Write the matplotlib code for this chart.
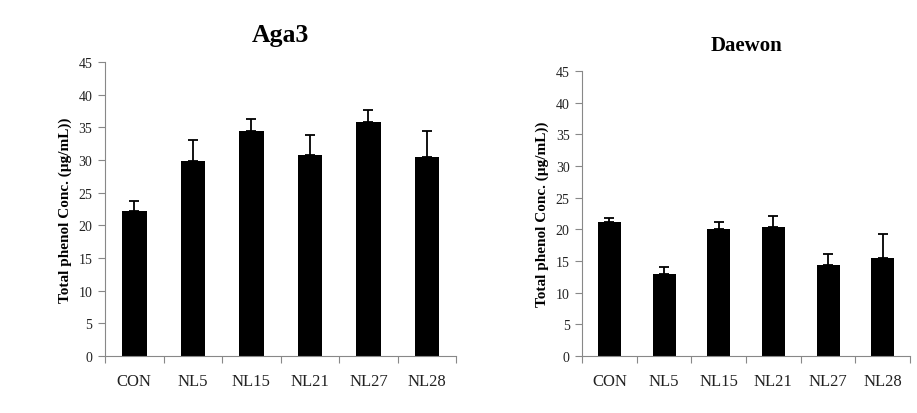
import matplotlib.pyplot as plt
import numpy as np

plt.rcParams['font.family'] = ['Liberation Serif', 'DejaVu Serif']

categories = ['CON', 'NL5', 'NL15', 'NL21', 'NL27', 'NL28']
aga3_mean = [22.2, 29.8, 34.4, 30.7, 35.8, 30.4]
aga3_err = [1.6, 3.3, 1.9, 3.1, 1.9, 4.0]
daewon_mean = [21.2, 13.0, 20.0, 20.4, 14.4, 15.5]
daewon_err = [0.6, 1.1, 1.1, 1.7, 1.7, 3.8]

fig = plt.figure(figsize=(9.17, 4.14), dpi=100)
ax1 = fig.add_axes([0.1145, 0.1377, 0.383, 0.710])
ax2 = fig.add_axes([0.6347, 0.1377, 0.3577, 0.688])


def draw_panel(ax, title, means, errs, title_size):
    x = np.arange(len(categories))
    ax.bar(x, means, width=0.42, color='black', zorder=2)
    ax.errorbar(x, means, yerr=[np.zeros(len(errs)), errs], fmt='none',
                ecolor='black', elinewidth=1.3, capsize=3.5, capthick=1.3, zorder=3)
    ax.set_xlim(-0.5, len(categories) - 0.5)
    ax.set_ylim(0, 45)
    ax.set_yticks(range(0, 46, 5))
    ax.tick_params(axis='y', labelsize=10, length=5, width=0.8, color='#888888', pad=4,
                   labelcolor='#222222')
    # boundaries as major ticks, labels on minor ticks at the bar centers
    ax.set_xticks(np.arange(-0.5, len(categories), 1.0))
    ax.set_xticklabels([])
    ax.set_xticks(x, minor=True)
    ax.set_xticklabels(categories, minor=True)
    ax.tick_params(axis='x', which='major', length=5, width=0.8, color='#888888')
    ax.tick_params(axis='x', which='minor', length=0, labelsize=12, pad=12,
                   labelcolor='#222222')
    for s in ['top', 'right']:
        ax.spines[s].set_visible(False)
    for s in ['left', 'bottom']:
        ax.spines[s].set_color('#888888')
        ax.spines[s].set_linewidth(0.8)
    ax.set_ylabel('Total phenol Conc. (\u00b5g/mL))', fontsize=11, fontweight='bold', labelpad=5)
    ax.set_title(title, fontsize=title_size, fontweight='bold', pad=15)


draw_panel(ax1, 'Aga3', aga3_mean, aga3_err, 18.5)
draw_panel(ax2, 'Daewon', daewon_mean, daewon_err, 15)

fig.savefig('out.png', dpi=100)
